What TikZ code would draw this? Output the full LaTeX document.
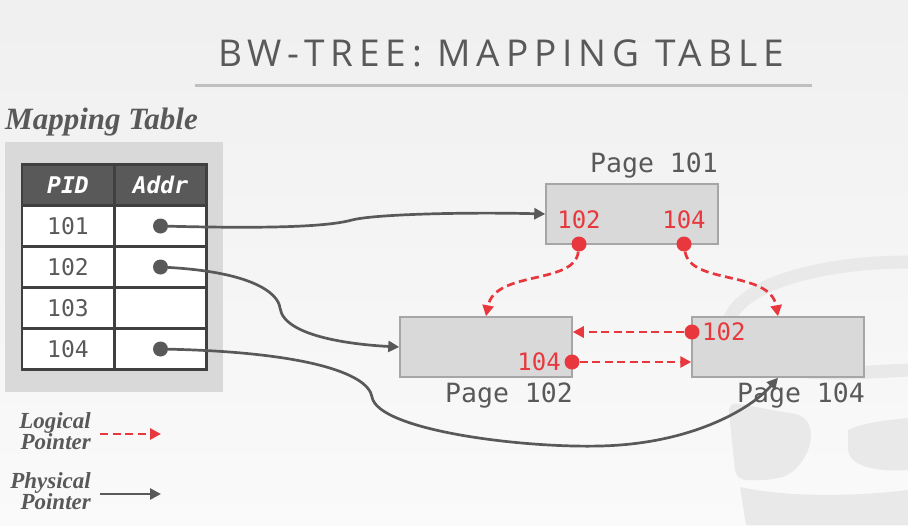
\documentclass[tikz,border=0pt]{standalone}
\usepackage{fontspec}
\setmainfont{Liberation Serif}
\newfontfamily\titlefont[LetterSpace=16]{Open Sans}
\newfontfamily\codefont{DejaVu Sans Mono}
\usetikzlibrary{arrows.meta}
\definecolor{ink}{HTML}{595959}
\definecolor{redptr}{HTML}{E8383D}
\definecolor{pagefill}{HTML}{D9D9D9}
\definecolor{pageline}{HTML}{A6A6A6}
\definecolor{tabline}{HTML}{404040}
\definecolor{wmark}{HTML}{E9E9E9}
\begin{document}
\begin{tikzpicture}[x=1pt,y=1pt,yscale=-1,xscale=1,
    page/.style={draw=pageline,line width=1.5pt,fill=pagefill,minimum width=172pt,minimum height=60pt,inner sep=0pt},
    pagelbl/.style={font=\codefont\fontsize{26.5}{26.5}\selectfont,text=ink,inner sep=0pt},
    redlbl/.style={font=\codefont\fontsize{24}{24}\selectfont,text=redptr,inner sep=0pt},
    rdot/.style={circle,fill=redptr,minimum size=15pt,inner sep=0pt},
    adot/.style={circle,fill=ink,minimum size=15pt,inner sep=0pt},
    cell/.style={draw=tabline,line width=2.5pt,fill=white,minimum width=92pt,minimum height=41pt,inner sep=0pt,font=\codefont\fontsize{23}{23}\selectfont,text=ink},
    headcell/.style={cell,fill=ink,text=white,font=\codefont\bfseries\itshape\fontsize{23}{23}\selectfont},
    physical/.style={draw=ink,line width=2.7pt,-{Triangle[length=11pt,width=11pt]}},
    logical/.style={draw=redptr,line width=2.7pt,dash pattern=on 8pt off 4.5pt,-{Triangle[length=11pt,width=11pt]}},
    legendlbl/.style={font=\bfseries\itshape\fontsize{23}{21}\selectfont,text=ink,align=right,anchor=east,inner sep=0pt}]
\useasboundingbox (0,0) rectangle (908,525);
% background
\fill[color=white!95!black] (0,0) rectangle (908,525);
\shade[top color=white!94!black,bottom color=white!98!black] (0,0) rectangle (908,525);
% watermark
\draw[wmark,line width=13pt] (908,262) .. controls (820,262) and (735,285) .. (728,325) .. controls (722,360) and (780,378) .. (870,372) -- (908,370);
\fill[wmark,rounded corners=10pt] (728,402) -- (806,416) .. controls (816,445) and (800,472) .. (772,480) -- (736,480) -- cycle;
\fill[wmark] (848,430) .. controls (865,422) and (890,420) .. (908,418) -- (908,470) .. controls (880,472) and (848,468) .. (848,448) -- cycle;
\fill[wmark] (740,487) .. controls (790,498) and (860,496) .. (908,490) -- (908,525) -- (746,525) -- cycle;
% title
\node[font=\titlefont\fontsize{37}{37}\selectfont,text=ink] (title) at (501,53) {BW-TREE: MAPPING TABLE};
\draw[color=white!75!black,line width=3pt] (195,85) -- (812,85);
% mapping table
\node[anchor=west,font=\bfseries\itshape\fontsize{31}{31}\selectfont,text=ink,inner sep=0pt] (mtitle) at (5,122) {Mapping Table};
\fill[pagefill] (5,142) rectangle (223,392);
\node[headcell] (hpid) at (68,185) {PID};
\node[headcell] (haddr) at (160.5,185) {Addr};
\foreach \pid [count=\i] in {101,102,103,104} {
  \node[cell] (pid\pid) at (68,{185+41*\i}) {\pid};
  \node[cell] (addr\pid) at (160.5,{185+41*\i}) {};
}
\node[adot] (a101) at (addr101) {};
\node[adot] (a102) at (addr102) {};
\node[adot] (a104) at (addr104) {};
% pages
\node[page] (p101) at (632,214) {};
\node[page] (p102) at (486,347) {};
\node[page] (p104) at (778,347) {};
\node[pagelbl] (l101) at (654,166) {Page 101};
\node[pagelbl] (l102) at (509,396) {Page 102};
\node[pagelbl] (l104) at (801,396) {Page 104};
\node[redlbl] (t102) at (579,220) {102};
\node[redlbl] (t104) at (684,220) {104};
\node[rdot] (d102) at (579,244) {};
\node[rdot] (d104) at (684,244) {};
\node[redlbl,anchor=east] (s104) at (561,362) {104};
\node[rdot] (e104) at (572,362) {};
\node[redlbl,anchor=west] (s102) at (702,332) {102};
\node[rdot] (e102) at (692,332) {};
% logical pointers
\draw[logical] (d102) .. controls (575,285) and (495,270) .. (p102.north);
\draw[logical] (d104) .. controls (690,285) and (770,270) .. (p104.north);
\draw[logical] (e102) -- (e102 -| p102.east);
\draw[logical] (e104) -- (e104 -| p104.west);
% physical pointers
\draw[physical] (a101) .. controls (280,229) and (330,226) .. (352,220) .. controls (375,214) and (470,212) .. (p101.west);
\draw[physical] (a102) .. controls (250,272) and (278,292) .. (280,308) .. controls (284,338) and (360,345) .. (p102.west);
\draw[physical] (a104) .. controls (300,352) and (368,372) .. (372,397) .. controls (378,430) and (520,448) .. (600,446) .. controls (690,444) and (750,410) .. (p104.south);
% legend
\node[legendlbl] (lglog) at (91,431) {Logical\\Pointer};
\coordinate (lgl1) at (100,434);
\coordinate (lgl2) at (161,434);
\draw[logical] (lgl1) -- (lgl2);
\node[legendlbl] (lgphy) at (91,491) {Physical\\Pointer};
\coordinate (lgp1) at (100,494);
\coordinate (lgp2) at (161,494);
\draw[physical] (lgp1) -- (lgp2);
\end{tikzpicture}
\end{document}
